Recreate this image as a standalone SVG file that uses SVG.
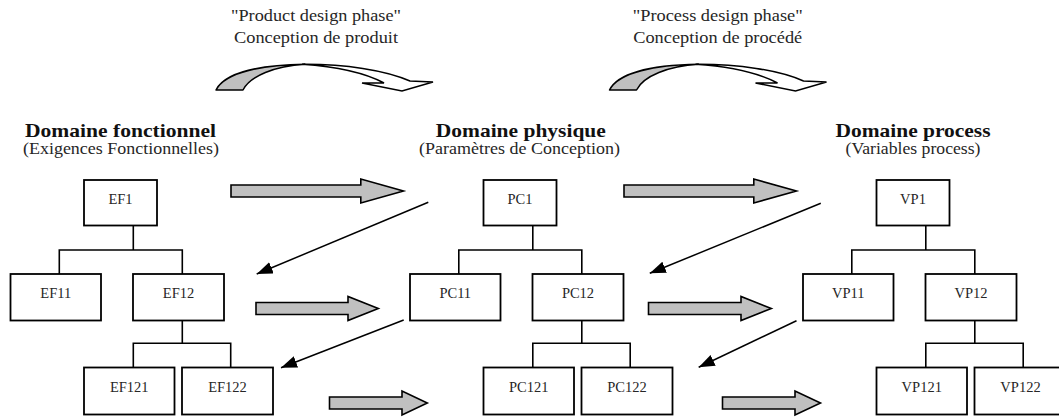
<svg xmlns="http://www.w3.org/2000/svg" width="1059" height="417" viewBox="0 0 1059 417">
<style>
.box{fill:#fff;stroke:#000;stroke-width:1.8}
.lbl{font-family:"Liberation Serif","Times New Roman",serif;font-size:14.5px;fill:#262626;text-anchor:middle}
.hd{font-family:"Liberation Serif","Times New Roman",serif;font-size:19px;font-weight:bold;fill:#111;text-anchor:middle}
.sub{font-family:"Liberation Serif","Times New Roman",serif;font-size:16.5px;fill:#262626;text-anchor:middle}
.tree{fill:none;stroke:#000;stroke-width:1.6}
.block{fill:#c0c0c0;stroke:#000;stroke-width:1.6;stroke-linejoin:miter}
.thin{fill:none;stroke:#000;stroke-width:1.5}
.curveg{fill:#c0c0c0;stroke:#000;stroke-width:1.5;stroke-linejoin:round}
.curvew{fill:#fff;stroke:#000;stroke-width:1.5;stroke-linejoin:miter}
</style>
<defs>
<marker id="ah" markerUnits="userSpaceOnUse" markerWidth="17" markerHeight="13" refX="16" refY="6" orient="auto">
<path d="M0,0 L16,6 L0,12 z" fill="#000"/>
</marker>
<g id="curvedArrow">
<path class="curveg" d="M216,90 C225,72 262,65 305,64.3 C275,66 250,76 243,90 Z"/>
<path class="curvew" d="M302,64.3 C345,64 385,70 410,81 L433,82 L402,91 L362,83 L384,83 C365,73 335,66.5 302,64.3 Z"/>
</g>
</defs>

<g id="phase-labels">
<text class="sub" x="316" y="21" textLength="170" lengthAdjust="spacingAndGlyphs">"Product design phase"</text>
<text class="sub" x="316" y="43" textLength="164" lengthAdjust="spacingAndGlyphs">Conception de produit</text>
<text class="sub" x="717.7" y="21" textLength="170" lengthAdjust="spacingAndGlyphs">"Process design phase"</text>
<text class="sub" x="717.7" y="43" textLength="169" lengthAdjust="spacingAndGlyphs">Conception de procédé</text>
</g>

<g id="domain-headings">
<text class="hd" x="120.5" y="136.5" textLength="191" lengthAdjust="spacingAndGlyphs">Domaine fonctionnel</text>
<text class="sub" x="121" y="154" textLength="196" lengthAdjust="spacingAndGlyphs">(Exigences Fonctionnelles)</text>
<text class="hd" x="520.8" y="136.5" textLength="170" lengthAdjust="spacingAndGlyphs">Domaine physique</text>
<text class="sub" x="519.6" y="154" textLength="201" lengthAdjust="spacingAndGlyphs">(Paramètres de Conception)</text>
<text class="hd" x="913" y="136.5" textLength="155" lengthAdjust="spacingAndGlyphs">Domaine process</text>
<text class="sub" x="913" y="154" textLength="135" lengthAdjust="spacingAndGlyphs">(Variables process)</text>
</g>

<g id="connectors">
<!-- phase curved arrows -->
<use href="#curvedArrow"/>
<use href="#curvedArrow" transform="translate(393.5,0)"/>
<!-- tree lines EF -->
<path class="tree" d="M133.3,225 V250 M59.3,274 V250 H182.3 V274 M182.3,320 V343.3 M133.3,367.5 V343.3 H230.7 V367.5"/>
<!-- tree lines PC -->
<path class="tree" d="M532.8,225 V250 M458.8,274 V250 H581.8 V274 M581.8,320 V343.3 M532.8,367.5 V343.3 H630.2 V367.5"/>
<!-- tree lines VP -->
<path class="tree" d="M925.8,225 V250 M851.8,274 V250 H974.8 V274 M974.8,320 V343.3 M925.8,367.5 V343.3 H1023.2 V367.5"/>
<!-- block arrows EF to PC -->
<path class="block" d="M231,185 H360.8 V179 L403.5,191 L360.8,203 V197 H231 Z"/>
<path class="block" d="M256,302.5 H348 V296.5 L378.3,308.5 L348,320.5 V314.5 H256 Z"/>
<path class="block" d="M329.5,397 H402 V391 L427.3,403 L402,415 V409 H329.5 Z"/>
<!-- block arrows PC to VP -->
<path class="block" d="M624,185 H753.8 V179 L796.5,191 L753.8,203 V197 H624 Z"/>
<path class="block" d="M648.5,302.5 H741 V296.5 L771.3,308.5 L741,320.5 V314.5 H648.5 Z"/>
<path class="block" d="M722.5,397 H795 V391 L820.5,403 L795,415 V409 H722.5 Z"/>
<!-- thin feedback arrows -->
<line class="thin" x1="428.3" y1="202.3" x2="256.7" y2="274" marker-end="url(#ah)"/>
<line class="thin" x1="403.7" y1="320" x2="281" y2="367.7" marker-end="url(#ah)"/>
<line class="thin" x1="820.8" y1="203.3" x2="649.8" y2="273.3" marker-end="url(#ah)"/>
<line class="thin" x1="796.5" y1="320.7" x2="698.7" y2="367.3" marker-end="url(#ah)"/>
</g>

<g id="EF1"><rect class="box" x="84" y="180" width="73" height="45.5"/><text class="lbl" x="120.5" y="203.5">EF1</text></g>
<g id="EF11"><rect class="box" x="10.5" y="274" width="90.5" height="46.5"/><text class="lbl" x="55.75" y="298">EF11</text></g>
<g id="EF12"><rect class="box" x="133" y="274" width="91" height="46.5"/><text class="lbl" x="178.5" y="298">EF12</text></g>
<g id="EF121"><rect class="box" x="84" y="367.5" width="90.5" height="47"/><text class="lbl" x="129.25" y="391.5">EF121</text></g>
<g id="EF122"><rect class="box" x="182" y="367.5" width="91" height="47"/><text class="lbl" x="227.5" y="391.5">EF122</text></g>

<g id="PC1"><rect class="box" x="483.5" y="180" width="73" height="45.5"/><text class="lbl" x="520" y="203.5">PC1</text></g>
<g id="PC11"><rect class="box" x="410" y="274" width="90.5" height="46.5"/><text class="lbl" x="455.25" y="298">PC11</text></g>
<g id="PC12"><rect class="box" x="532.5" y="274" width="91" height="46.5"/><text class="lbl" x="578" y="298">PC12</text></g>
<g id="PC121"><rect class="box" x="483.5" y="367.5" width="90.5" height="47"/><text class="lbl" x="528.75" y="391.5">PC121</text></g>
<g id="PC122"><rect class="box" x="581.5" y="367.5" width="91" height="47"/><text class="lbl" x="627" y="391.5">PC122</text></g>

<g id="VP1"><rect class="box" x="876.5" y="180" width="73" height="45.5"/><text class="lbl" x="913" y="203.5">VP1</text></g>
<g id="VP11"><rect class="box" x="803" y="274" width="90.5" height="46.5"/><text class="lbl" x="848.25" y="298">VP11</text></g>
<g id="VP12"><rect class="box" x="925.5" y="274" width="91" height="46.5"/><text class="lbl" x="971" y="298">VP12</text></g>
<g id="VP121"><rect class="box" x="876.5" y="367.5" width="90.5" height="47"/><text class="lbl" x="921.75" y="391.5">VP121</text></g>
<g id="VP122"><rect class="box" x="974.5" y="367.5" width="91" height="47"/><text class="lbl" x="1020.5" y="391.5">VP122</text></g>
</svg>
